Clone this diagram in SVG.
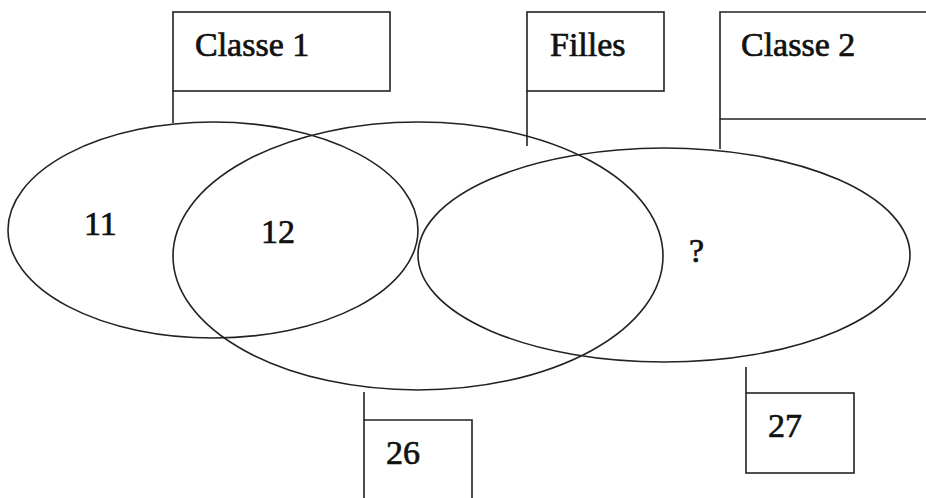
<svg xmlns="http://www.w3.org/2000/svg" width="926" height="498" viewBox="0 0 926 498">
  <style>
    .shape { fill: none; stroke: #222; stroke-width: 1.6; }
    .label { font-family: "Liberation Serif", "Times New Roman", serif; font-size: 34px; fill: #111; stroke: #111; stroke-width: 0.7; }
  </style>
  <rect width="926" height="498" fill="#fff"/>

  <!-- sets -->
  <g id="set-classe1"><ellipse class="shape" cx="213" cy="230" rx="205" ry="108"/></g>
  <g id="set-filles"><ellipse class="shape" cx="418" cy="256" rx="245" ry="134"/></g>
  <g id="set-classe2"><ellipse class="shape" cx="664" cy="255" rx="246" ry="107"/></g>

  <!-- region counts -->
  <g id="count-11"><text class="label" x="84" y="235">11</text></g>
  <g id="count-12"><text class="label" x="261" y="243">12</text></g>
  <g id="count-q"><text class="label" x="689" y="262">?</text></g>

  <!-- flag stems -->
  <g id="connectors">
    <line class="shape" x1="173" y1="91" x2="173" y2="123"/>
    <line class="shape" x1="527" y1="91" x2="527" y2="146"/>
    <line class="shape" x1="720" y1="119" x2="720" y2="149"/>
    <line class="shape" x1="364" y1="392" x2="364" y2="420"/>
    <line class="shape" x1="746" y1="367" x2="746" y2="393"/>
  </g>

  <!-- flag labels -->
  <g id="flag-classe1">
    <rect class="shape" x="173" y="12" width="217" height="79"/>
    <text class="label" x="195" y="56">Classe 1</text>
  </g>
  <g id="flag-filles">
    <rect class="shape" x="527" y="12" width="137" height="79"/>
    <text class="label" x="550" y="56">Filles</text>
  </g>
  <g id="flag-classe2">
    <path class="shape" d="M930 12 H720 V119 H930"/>
    <text class="label" x="741" y="56">Classe 2</text>
  </g>
  <g id="flag-26">
    <path class="shape" d="M364 500 V420 H472 V500"/>
    <text class="label" x="386" y="464">26</text>
  </g>
  <g id="flag-27">
    <rect class="shape" x="746" y="393" width="108" height="80"/>
    <text class="label" x="768" y="437">27</text>
  </g>
</svg>
